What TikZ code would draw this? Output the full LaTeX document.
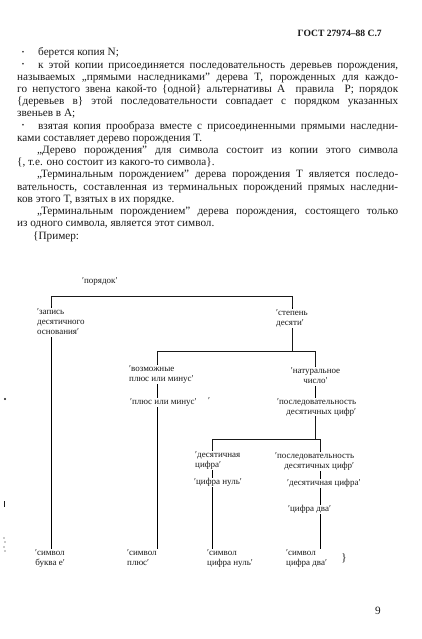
\documentclass[tikz,border=0pt]{standalone}
\usepackage{fontspec}
\setmainfont{Liberation Serif}
\definecolor{ink}{RGB}{25,25,25}
\newcommand\JustLine[2]{\makebox[#1][s]{#2}}
\newcommand\LTop{\rule{0pt}{7pt}}
\newcommand\LBot{\rule[-2.5pt]{0pt}{2.5pt}}
\begin{document}
\begin{tikzpicture}[x=1pt,y=-1pt,
  body/.style={anchor=base west,inner sep=0pt,font=\fontsize{11.2}{12}\selectfont,text=ink},
  bul/.style={inner sep=0pt,font=\fontsize{7}{7}\selectfont,text=ink},
  lbl/.style={anchor=north west,inner sep=0pt,align=left,font=\fontsize{9}{9.8}\selectfont,text=ink},
  lblr/.style={lbl,align=right},
  link/.style={draw=black,line width=1.1pt},
  barfill/.style={fill=ink}]
\useasboundingbox (0,0) rectangle (422,639);

\coordinate (kA) at (51.5,0);
\coordinate (kB) at (292.5,0);
\coordinate (kC) at (157.5,0);
\coordinate (kD) at (315.5,0);
\coordinate (kE) at (212.5,0);
\coordinate (kF) at (320.5,0);
\coordinate (aL) at (51.5,296.5);
\coordinate (aR) at (292.5,296.5);
\coordinate (bM) at (292.5,351.5);
\coordinate (bL) at (157.5,351.5);
\coordinate (bR) at (315.5,351.5);
\coordinate (cM) at (315.5,439.5);
\coordinate (cL) at (212.5,439.5);
\coordinate (cR) at (320.5,439.5);

% tree labels
\node[lbl] (por) at (82,276.5) {\LTop′порядок′\LBot};
\node[lbl] (zap) at (37,307.5) {\LTop′запись\\десятичного\\основания′\LBot};
\node[lbl] (stp) at (276,308.5) {\LTop′степень\\десяти′\LBot};
\node[lbl] (voz) at (129,364.5) {\LTop′возможные\\плюс или минус′\LBot};
\node[lbl,anchor=north,align=center] (nat) at (315.5,366.5) {\LTop′натуральное\\число′\LBot};
\node[lbl] (plm) at (130,397.5) {\LTop′плюс или минус′\LBot};
\node[lbl] (stray) at (208,396.5) {\LTop′};
\node[lblr] (pos1) at (277,397.5) {\LTop′последовательность\\десятичных цифр′\LBot};
\node[lbl] (dec1) at (195,450.5) {\LTop′десятичная\\цифра′\LBot};
\node[lblr] (pos2) at (275,451.5) {\LTop′последовательность\\десятичных цифр′\LBot};
\node[lbl] (cn) at (194,477.5) {\LTop′цифра нуль′\LBot};
\node[lbl] (dc) at (287,478.5) {\LTop′десятичная цифра′\LBot};
\node[lbl] (cd) at (288,504.5) {\LTop′цифра два′\LBot};
\node[lblr] (s1) at (35,548.5) {\LTop′символ\\буква е′\LBot};
\node[lbl] (s2) at (127,548.5) {\LTop′символ\\плюс′\LBot};
\node[lbl] (s3) at (207,548.5) {\LTop′символ\\цифра нуль′\LBot};
\node[lbl] (s4) at (286,548.5) {\LTop′символ\\цифра два′\LBot};
\node[body,anchor=center] (rbr) at (344,558) {\}};

% columns
\draw[link] (zap.south -| kA) -- (s1.north -| kA);
\draw[link] (voz.south -| kC) -- (plm.north -| kC);
\draw[link] (plm.south -| kC) -- (s2.north -| kC);
\draw[link] (nat.south -| kD) -- (pos1.north -| kD);
\draw[link] (dec1.south -| kE) -- (cn.north -| kE);
\draw[link] (cn.south -| kE) -- (s3.north -| kE);
\draw[link] (pos2.south -| kF) -- (dc.north -| kF);
\draw[link] (dc.south -| kF) -- (cd.north -| kF);
\draw[link] (cd.south -| kF) -- (s4.north -| kF);

% bars, drawn as strokes and as thin filled strips
\draw[link] (zap.north -| kA) -- (aL) -- (aR) -- (stp.north -| kB);
\draw[link] (stp.south -| kB) -- (bM);
\draw[link] (voz.north -| kC) -- (bL) -- (bR) -- (nat.north -| kD);
\draw[link] (pos1.south -| kD) -- (cM);
\draw[link] (dec1.north -| kE) -- (cL) -- (cR) -- (pos2.north -| kF);
\fill[barfill] (51,296) rectangle (293,297);
\fill[barfill] (51,296) rectangle (52,306);
\fill[barfill] (292,296) rectangle (293,307);
\fill[barfill] (292,328) rectangle (293,352);
\fill[barfill] (157,351) rectangle (316,352);
\fill[barfill] (157,351) rectangle (158,364);
\fill[barfill] (315,351) rectangle (316,366);
\fill[barfill] (315,416) rectangle (316,440);
\fill[barfill] (212,439) rectangle (321,440);
\fill[barfill] (212,439) rectangle (213,450);
\fill[barfill] (320,439) rectangle (321,451);

% header
\node[body,anchor=base east,font=\bfseries\fontsize{9.6}{11}\selectfont] (hdr) at (382,36.5) {ГОСТ 27974–88 С.7};

% body text
\node[bul] (b1) at (23,53) {•};
\node[body] (t1) at (38,56) {берется копия N;};
\node[bul] (b2) at (23,65.2) {•};
\node[body] (t2) at (38,68.2) {\JustLine{360pt}{к этой копии присоединяется последовательность деревьев порождения,}};
\node[body] (t3) at (17,80.4) {\JustLine{381pt}{называемых „прямыми наследниками” дерева T, порожденных для каждо-}};
\node[body] (t4) at (17,92.6) {\JustLine{381pt}{го непустого звена какой-то \{одной\} альтернативы A \ правила \ P; порядок}};
\node[body] (t5) at (17,104.8) {\JustLine{381pt}{\{деревьев в\} этой последовательности совпадает с порядком указанных}};
\node[body] (t6) at (17,117) {звеньев в A;};
\node[bul] (b3) at (23,126.2) {•};
\node[body] (t7) at (38,129.2) {\JustLine{360pt}{взятая копия прообраза вместе с присоединенными прямыми наследни-}};
\node[body] (t8) at (17,141.4) {ками составляет дерево порождения T.};
\node[body] (t9) at (37,153.6) {\JustLine{361pt}{„Дерево порождения” для символа состоит из копии этого символа}};
\node[body] (t10) at (17,165.8) {\{, т.е. оно состоит из какого-то символа\}.};
\node[body] (t11) at (37,178) {\JustLine{361pt}{„Терминальным порождением” дерева порождения T является последо-}};
\node[body] (t12) at (17,190.2) {\JustLine{381pt}{вательность, составленная из терминальных порождений прямых наследни-}};
\node[body] (t13) at (17,202.4) {ков этого T, взятых в их порядке.};
\node[body] (t14) at (37,214.6) {\JustLine{361pt}{„Терминальным порождением” дерева порождения, состоящего только}};
\node[body] (t15) at (17,226.8) {из одного символа, является этот символ.};
\node[body] (t16) at (33,239) {\{Пример:};

% page number
\node[body] (pg) at (375,614.5) {9};

% margin marks of the scan
\fill[ink] (5,399) circle (1.1);
\draw[ink,line width=0.6pt] (4,501) -- (4,507);
\fill[ink] (4,538) circle (0.6);
\fill[ink] (5,542) circle (0.6);
\fill[ink] (4,547) circle (0.6);
\fill[ink] (5,551) circle (0.6);
\end{tikzpicture}
\end{document}
